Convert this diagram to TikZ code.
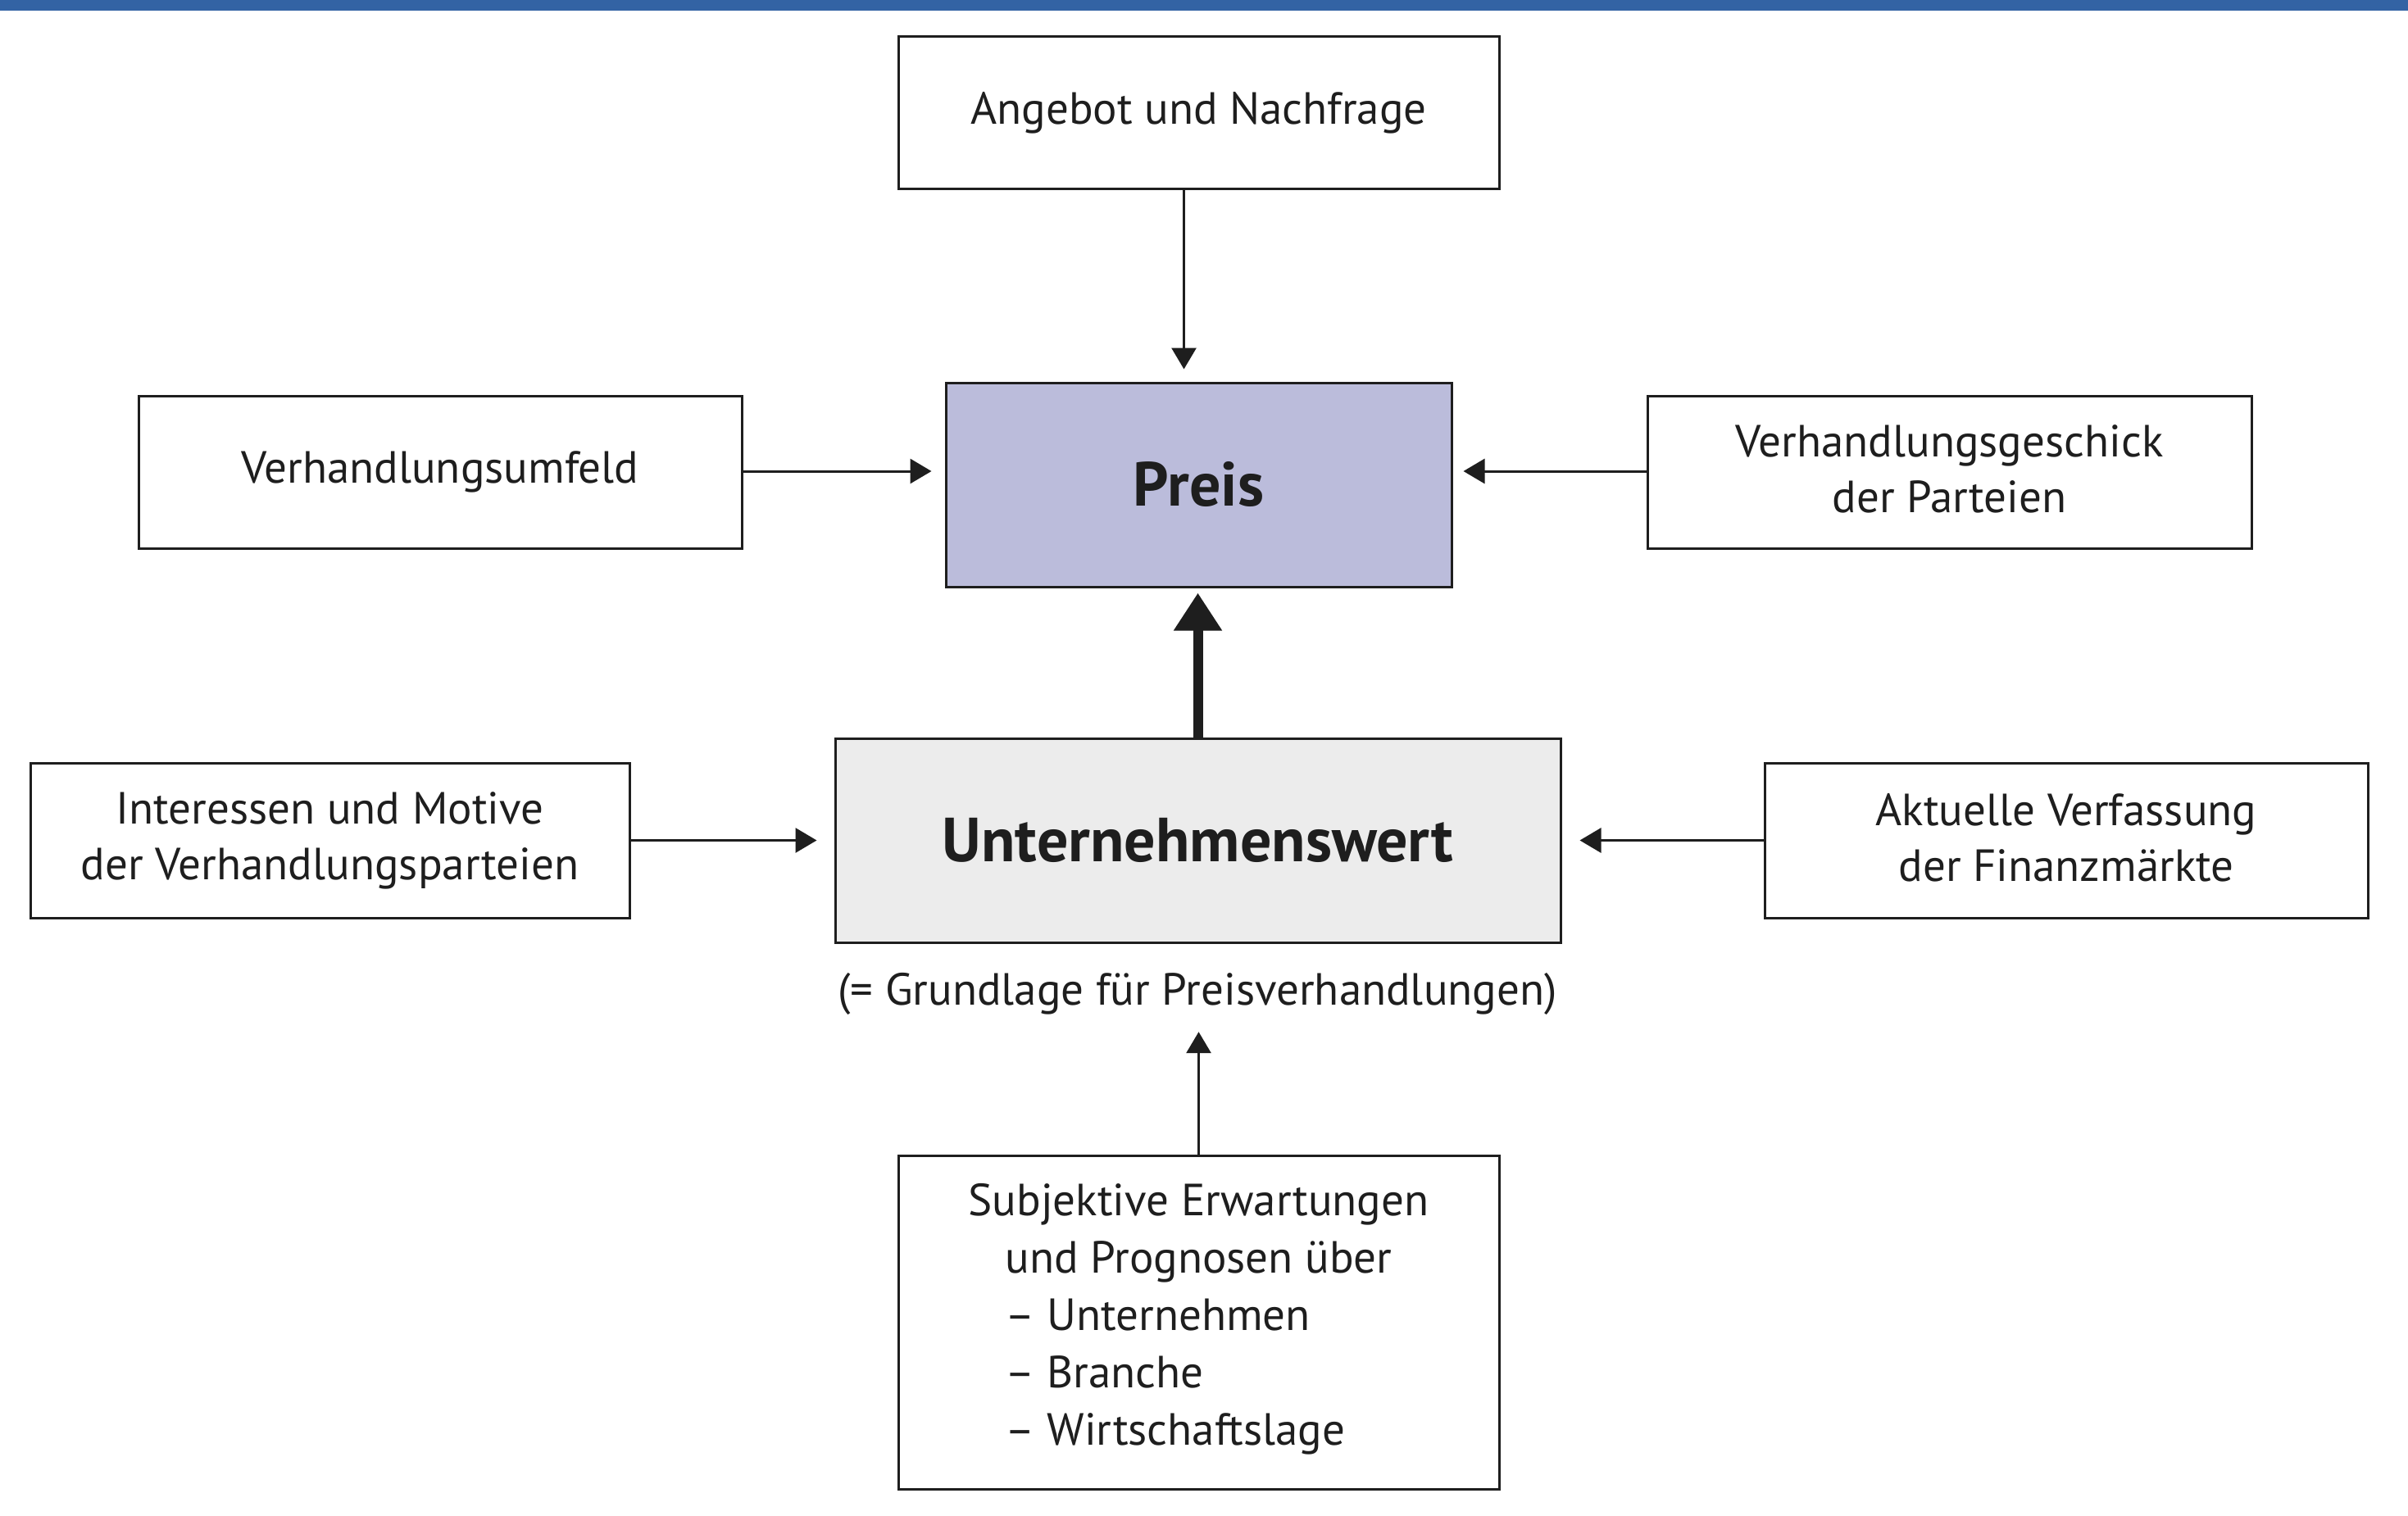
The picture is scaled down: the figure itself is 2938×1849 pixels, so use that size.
\documentclass[tikz,border=0pt]{standalone}
\usepackage{fontspec}
\setmainfont{PT Sans}
\usetikzlibrary{arrows.meta}
\definecolor{barblue}{HTML}{3363A4}
\definecolor{preisfill}{HTML}{BBBCDB}
\definecolor{uwfill}{HTML}{ECECEC}
\definecolor{ink}{HTML}{1E1E1E}
\tikzset{
  box/.style={draw=ink, line width=3pt, rectangle, inner sep=0pt, align=center,
    text=ink, font=\fontsize{55}{68}\selectfont},
  mainbox/.style={box, font=\fontsize{76}{90}\selectfont\bfseries},
  conn/.style={draw=ink, line width=3pt, -{Triangle[width=30pt,length=26pt]}},
  thickconn/.style={draw=ink, line width=12pt, -{Triangle[width=56pt,length=46pt]}},
}
\begin{document}
\begin{tikzpicture}[x=1pt,y=-1pt]
\useasboundingbox (0,0) rectangle (2938,1849);
\fill[barblue] (0,0) rectangle (2938,13.5);

\node[box, minimum width=733pt, minimum height=185pt] (ang) at (1462.5,137.5) {Angebot und Nachfrage};
\node[mainbox, fill=preisfill, minimum width=617pt, minimum height=249pt] (preis) at (1462.5,591.5) {Preis};
\node[box, minimum width=736pt, minimum height=186pt] (umf) at (537,576) {Verhandlungsumfeld};
\node[box, minimum width=737pt, minimum height=186pt, text depth=8pt] (ges) at (2378.5,576) {Verhandlungsgeschick\\der Parteien};
\node[mainbox, fill=uwfill, minimum width=885pt, minimum height=249pt] (uw) at (1461.5,1025.5) {Unternehmenswert};
\node[box, minimum width=731pt, minimum height=189pt] (int) at (402.5,1025.5) {Interessen und Motive\\der Verhandlungsparteien};
\node[box, minimum width=736pt, minimum height=189pt, text depth=8pt] (akt) at (2521,1025.5) {Aktuelle Verfassung\\der Finanzmärkte};
\node[text=ink, font=\fontsize{55}{68}\selectfont, inner sep=0pt, text height=38pt, text depth=12pt] (grund) at (1461,1213) {(= Grundlage für Preisverhandlungen)};
\node[box, font=\fontsize{55}{70}\selectfont, minimum width=733pt, minimum height=407pt] (subj) at (1462.5,1614)
  {Subjektive Erwartungen\\
   \begin{tabular}[t]{@{}l@{}}und Prognosen über\\– Unternehmen\\– Branche\\– Wirtschaftslage\end{tabular}};

\draw[conn, shorten >=15pt] ([xshift=-18pt]ang.south) -- ([xshift=-18pt]preis.north);
\draw[conn, shorten >=16pt] ([yshift=1pt]umf.east) -- ([yshift=1pt]umf.east -| preis.west);
\draw[conn, shorten >=13pt] ([yshift=1pt]ges.west) -- ([yshift=1pt]ges.west -| preis.east);
\draw[thickconn, shorten >=6pt] (uw.north) -- (uw.north |- preis.south);
\draw[conn, shorten >=21pt] (int.east) -- (int.east -| uw.west);
\draw[conn, shorten >=22pt] (akt.west) -- (akt.west -| uw.east);
\draw[conn, shorten >=21pt] (subj.north) -- (subj.north |- grund.south);
\end{tikzpicture}
\end{document}
